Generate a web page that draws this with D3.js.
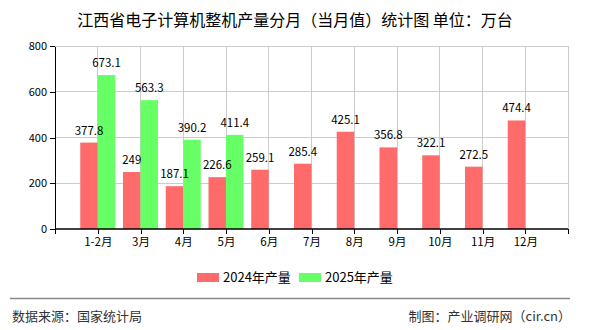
<!DOCTYPE html>
<html><head><meta charset="utf-8">
<script src="https://cdn.jsdelivr.net/npm/d3@7"></script>
<style>
html,body{margin:0;padding:0;background:#fff;}
svg{display:block;font-family:"Noto Sans CJK SC","Noto Sans",sans-serif;}
</style></head>
<body>
<svg id="c" width="590" height="330"></svg>
<script>
const categories = ["1-2月","3月","4月","5月","6月","7月","8月","9月","10月","11月","12月"];
const values2024 = [377.8,249,187.1,226.6,259.1,285.4,425.1,356.8,322.1,272.5,474.4];
const values2025 = [673.1,563.3,390.2,411.4,null,null,null,null,null,null,null];
const seriesNames = ["2024年产量","2025年产量"];
const yTicks = [0,200,400,600,800];
const titleText = "江西省电子计算机整机产量分月（当月值）统计图 单位：万台";
const sourceText = "数据来源：国家统计局";
const creditText = "制图：产业调研网（cir.cn）";

const colors = ["#ff6a6a","#66ff66"];
const svg = d3.select("#c");
const L = 55, R = 568, T = 46, B = 229;
const x = d3.scalePoint().domain(categories).range([L,R]).padding(1);
const y = d3.scaleLinear().domain([0,800]).range([B,T]);
const bw = 17.5;

// title
svg.append("text").attr("x",295).attr("y",26).attr("text-anchor","middle")
  .attr("font-size",16).attr("fill","#000").text(titleText);

// grid
const g = svg.append("g");
g.selectAll(".hg").data(yTicks.filter(d=>d>0)).join("line")
  .attr("x1",L).attr("x2",R).attr("y1",d=>y(d)).attr("y2",d=>y(d))
  .attr("stroke","#cccccc").attr("stroke-width",1).attr("shape-rendering","crispEdges");
g.selectAll(".vg").data(categories).join("line")
  .attr("x1",d=>x(d)).attr("x2",d=>x(d)).attr("y1",T).attr("y2",B)
  .attr("stroke","#cccccc").attr("stroke-width",1).attr("shape-rendering","crispEdges");
g.append("line").attr("x1",R).attr("x2",R).attr("y1",T).attr("y2",B)
  .attr("stroke","#cccccc").attr("shape-rendering","crispEdges");

// bars
const s1 = categories.map((c,i)=>({c,v:values2024[i]}));
const s2 = categories.map((c,i)=>({c,v:values2025[i]})).filter(d=>d.v!=null);
svg.selectAll(".b1").data(s1).join("rect")
  .attr("x",d=>x(d.c)-bw).attr("width",bw)
  .attr("y",d=>y(d.v)).attr("height",d=>B-y(d.v)).attr("fill",colors[0]);
svg.selectAll(".b2").data(s2).join("rect")
  .attr("x",d=>x(d.c)).attr("width",bw)
  .attr("y",d=>y(d.v)).attr("height",d=>B-y(d.v)).attr("fill",colors[1]);

// labels
svg.selectAll(".l1").data(s1).join("text")
  .attr("x",d=>x(d.c)-bw/2).attr("y",d=>y(d.v)-8).attr("text-anchor","middle")
  .attr("font-size",11.5).attr("fill","#000").text(d=>d.v);
svg.selectAll(".l2").data(s2).join("text")
  .attr("x",d=>x(d.c)+bw/2).attr("y",d=>y(d.v)-8).attr("text-anchor","middle")
  .attr("font-size",11.5).attr("fill","#000").text(d=>d.v);

// axes
const ya = svg.append("g").attr("transform",`translate(${L},0)`)
  .call(d3.axisLeft(y).tickValues(yTicks).tickSize(5).tickPadding(3).tickSizeOuter(0));
ya.select(".domain").attr("stroke","#000").attr("shape-rendering","crispEdges");
ya.selectAll(".tick line").attr("stroke","#000").attr("shape-rendering","crispEdges");
ya.selectAll("text").attr("font-size",11).attr("fill","#000").attr("font-family",'"Noto Sans CJK SC",sans-serif');

const xa = svg.append("g").attr("transform",`translate(0,${B})`)
  .call(d3.axisBottom(x).tickSize(5).tickPadding(4).tickSizeOuter(0));
xa.select(".domain").attr("stroke","#000").attr("stroke-width",1.5).attr("d",`M${L},0H${R}`);
xa.selectAll(".tick line").attr("stroke","#000").attr("shape-rendering","crispEdges");
xa.selectAll("text").attr("font-size",11.5).attr("fill","#000").attr("font-family",'"Noto Sans CJK SC",sans-serif');
[L,R].forEach(px=>xa.append("line").attr("x1",px).attr("x2",px).attr("y1",0).attr("y2",5)
  .attr("stroke","#000").attr("shape-rendering","crispEdges"));

// legend
const legX = [197,299];
seriesNames.forEach((n,i)=>{
  svg.append("rect").attr("x",legX[i]).attr("y",273).attr("width",22).attr("height",9).attr("fill",colors[i]);
  svg.append("text").attr("x",legX[i]+26).attr("y",282).attr("font-size",13).attr("fill","#000").text(n);
});

// footer
svg.append("line").attr("x1",10).attr("x2",570).attr("y1",298.5).attr("y2",298.5)
  .attr("stroke","#888").attr("stroke-width",1.5);
svg.append("text").attr("x",12).attr("y",321).attr("font-size",13).attr("fill","#333").text(sourceText);
svg.append("text").attr("x",571).attr("y",321).attr("text-anchor","end").attr("font-size",13).attr("fill","#333").text(creditText);
</script>
</body></html>
